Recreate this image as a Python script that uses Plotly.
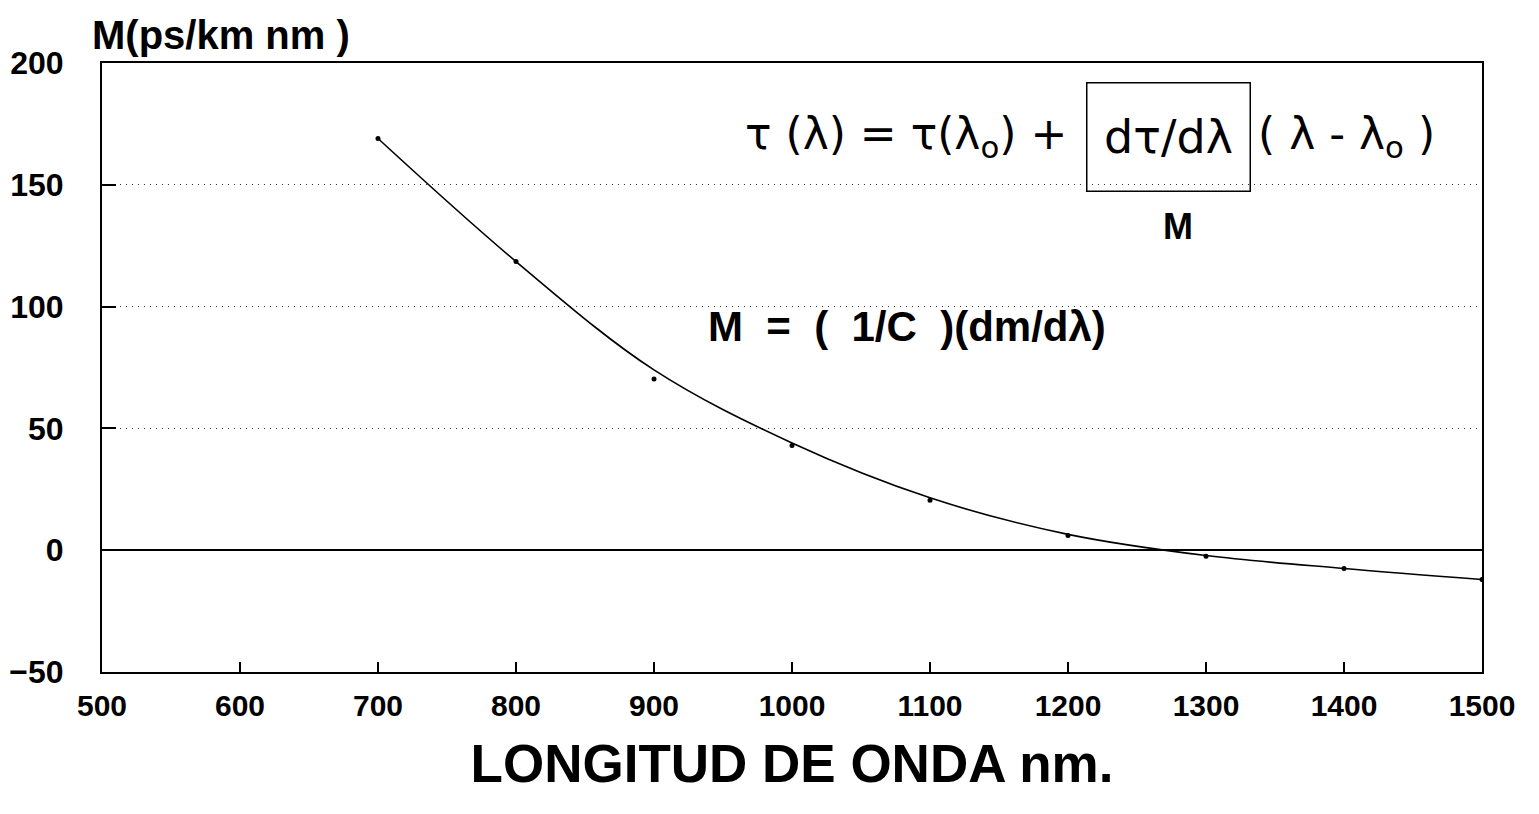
import plotly.graph_objects as go

wavelength_nm = [700, 800, 900, 1000, 1100, 1200, 1300, 1400, 1500]
measured_M = [169, 118.5, 70.3, 43, 20.5, 6, -2.5, -7.5, -12]
fitted_M = [169, 118.5, 74, 44, 21.5, 6.5, -2.2, -7.5, -12]

x_ticks = [500, 600, 700, 800, 900, 1000, 1100, 1200, 1300, 1400, 1500]
y_ticks = [-50, 0, 50, 100, 150, 200]

FONT = "Liberation Sans"

fig = go.Figure()
fig.add_trace(go.Scatter(
    x=wavelength_nm, y=fitted_M, mode="lines",
    line=dict(color="black", width=1.6, shape="spline", smoothing=1.0),
    showlegend=False, hoverinfo="skip",
))
fig.add_trace(go.Scatter(
    x=wavelength_nm, y=measured_M, mode="markers",
    marker=dict(color="black", size=5),
    showlegend=False,
))

axis_common = dict(
    showline=True, linecolor="black", linewidth=2, mirror=True,
    ticks="inside", tickcolor="black", tickwidth=1.5, automargin=False,
)

fig.update_xaxes(
    range=[500, 1500], tickvals=x_ticks, ticklen=10,
    showgrid=False, zeroline=False, ticklabelstandoff=6,
    tickfont=dict(family=FONT, size=30, color="black", weight="bold"),
    title=dict(text="LONGITUD DE ONDA nm.", standoff=24,
               font=dict(family=FONT, size=53, color="black", weight="bold")),
    **axis_common,
)
fig.update_yaxes(
    range=[-50, 200], tickvals=y_ticks, ticklen=14,
    showgrid=True, gridcolor="#333", gridwidth=1, griddash="1px,5px",
    zeroline=True, zerolinecolor="black", zerolinewidth=2,
    ticklabelstandoff=30,
    tickfont=dict(family=FONT, size=32, color="black", weight="bold"),
    **axis_common,
)

txt = dict(family="DejaVu Sans", size=44, color="black")
fig.add_annotation(text="M(ps/km nm )", xref="paper", yref="paper",
                   x=-0.009, y=1.046, xanchor="left", yanchor="middle",
                   showarrow=False,
                   font=dict(family=FONT, size=40, color="black", weight="bold"))
fig.add_annotation(text="τ (λ) = τ(λ<sub>o</sub>) + ", x=1211, y=170,
                   xanchor="right", yanchor="middle", showarrow=False, font=txt)
fig.add_annotation(text="dτ/dλ", x=1272.5, y=169.5, xanchor="center",
                   yanchor="middle", showarrow=False,
                   font=dict(family="DejaVu Sans", size=46, color="black"),
                   bordercolor="black", borderwidth=1.5,
                   width=160, height=105)
fig.add_annotation(text="( λ - λ<sub>o</sub> )", x=1336, y=170,
                   xanchor="left", yanchor="middle", showarrow=False, font=txt)
fig.add_annotation(text="M", x=1280, y=133, showarrow=False,
                   font=dict(family=FONT, size=36, color="black", weight="bold"))
fig.add_annotation(text="M  =  (  1/C  )(dm/dλ)", x=1083, y=92, showarrow=False,
                   font=dict(family=FONT, size=42, color="black", weight="bold"))

fig.update_layout(
    width=1531, height=806,
    margin=dict(l=94, r=57, t=55, b=142),
    paper_bgcolor="white", plot_bgcolor="white",
)

fig.write_html("out.html")
